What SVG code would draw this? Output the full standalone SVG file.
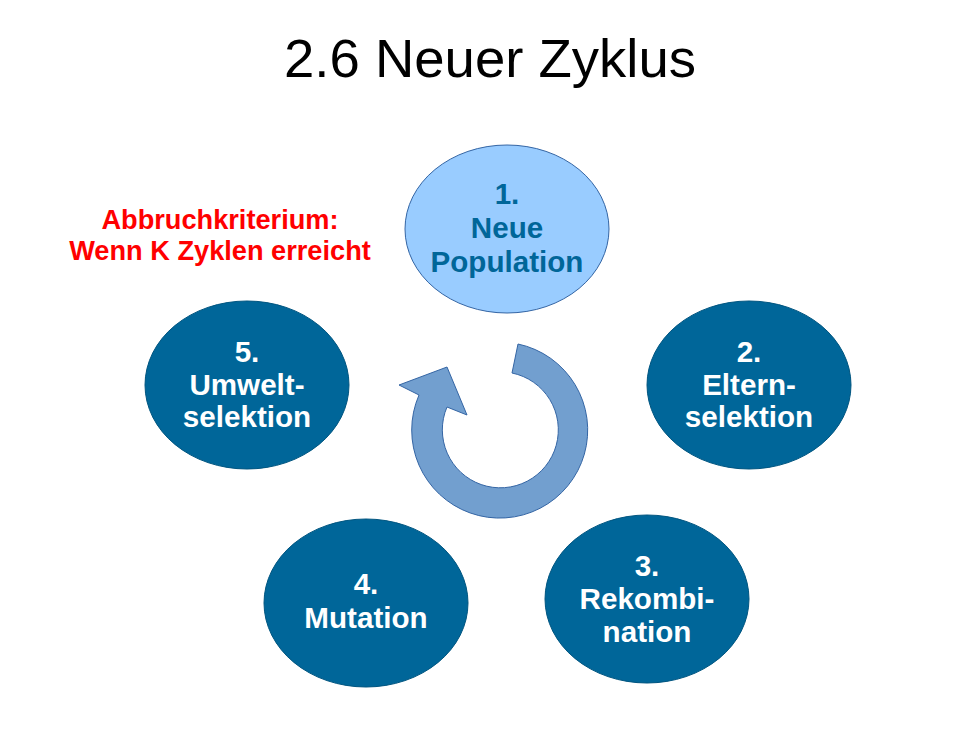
<svg xmlns="http://www.w3.org/2000/svg" width="980" height="733" viewBox="0 0 980 733">
  <style>
    .step { fill: #006699; stroke: #005580; stroke-width: 1; }
    .start { fill: #99ccff; stroke: #3465a4; stroke-width: 1; }
    .lbl { font-family: "Liberation Sans", Arial, sans-serif; font-weight: bold; font-size: 29.6px; text-anchor: middle; fill: #ffffff; }
    .lbl-dark { fill: #006699; }
    .title { font-family: "Liberation Sans", Arial, sans-serif; font-size: 54.5px; text-anchor: middle; fill: #000000; }
    .note { font-family: "Liberation Sans", Arial, sans-serif; font-weight: bold; font-size: 27.2px; text-anchor: middle; fill: #ff0000; }
  </style>
  <rect width="980" height="733" fill="#ffffff"/>

  <text class="title" x="490" y="77">2.6 Neuer Zyklus</text>

  <text class="note" x="220" y="229">Abbruchkriterium:</text>
  <text class="note" x="220" y="260">Wenn K Zyklen erreicht</text>

  <!-- circular cycle arrow in the centre -->
  <g id="connectors">
    <path d="M 518 344 A 88 88 0 1 1 419 395 L 399 385 L 447 367 L 467 415 L 447 407 A 58 58 0 1 0 512 373 Z"
          fill="#729fcf" stroke="#3465a4" stroke-width="1"/>
  </g>

  <g id="n1">
    <ellipse class="start" cx="507" cy="229" rx="102" ry="84"/>
    <text class="lbl lbl-dark" x="507" y="204">1.</text>
    <text class="lbl lbl-dark" x="507" y="238">Neue</text>
    <text class="lbl lbl-dark" x="507" y="272">Population</text>
  </g>

  <g id="n2">
    <ellipse class="step" cx="749" cy="385" rx="102" ry="84"/>
    <text class="lbl" x="749" y="362">2.</text>
    <text class="lbl" x="749" y="395">Eltern-</text>
    <text class="lbl" x="749" y="427">selektion</text>
  </g>

  <g id="n3">
    <ellipse class="step" cx="647" cy="599" rx="102" ry="84"/>
    <text class="lbl" x="647" y="576">3.</text>
    <text class="lbl" x="647" y="609">Rekombi-</text>
    <text class="lbl" x="647" y="642">nation</text>
  </g>

  <g id="n4">
    <ellipse class="step" cx="366" cy="603" rx="102" ry="84"/>
    <text class="lbl" x="366" y="594">4.</text>
    <text class="lbl" x="366" y="628">Mutation</text>
  </g>

  <g id="n5">
    <ellipse class="step" cx="247" cy="385" rx="102" ry="84"/>
    <text class="lbl" x="247" y="362">5.</text>
    <text class="lbl" x="247" y="395">Umwelt-</text>
    <text class="lbl" x="247" y="427">selektion</text>
  </g>
</svg>
